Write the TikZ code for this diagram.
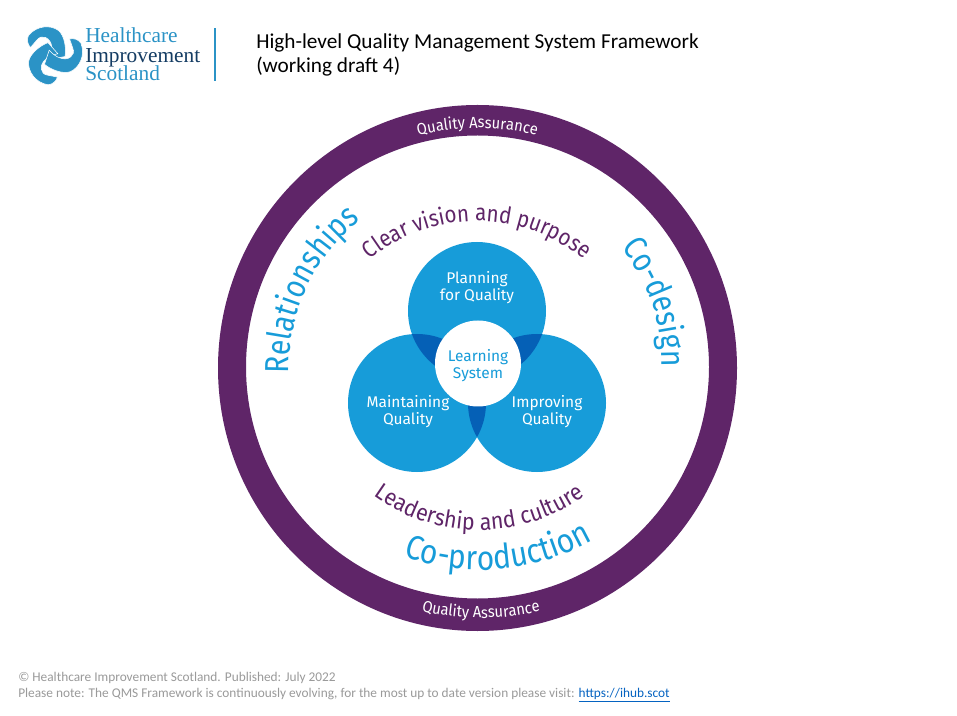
\documentclass[tikz,border=0pt]{standalone}
\usepackage{fontspec}
\usetikzlibrary{decorations.text,calc}
\setmainfont{Carlito}
\newfontfamily\fira{Fira Sans}
\newfontfamily\firaA[FakeStretch=0.85]{Fira Sans}
\newfontfamily\firaB[FakeStretch=0.88]{Fira Sans}
\newfontfamily\firaC[FakeStretch=0.92]{Fira Sans}
\newfontfamily\logofont{Liberation Serif}
\definecolor{hisblue}{HTML}{179CD9}
\definecolor{hispurple}{HTML}{5F2568}
\definecolor{hisdark}{HTML}{0560B6}
\definecolor{logoblue}{HTML}{2B93C6}
\definecolor{logonavy}{HTML}{143C63}
\definecolor{footgrey}{HTML}{9A9A9A}
\definecolor{linkblue}{HTML}{0563C1}
\def\qaFont{\firaC\fontsize{12}{14}\selectfont\color{white}}
\def\relFont{\firaA\fontsize{25}{28}\selectfont\color{hisblue}}
\def\prodFont{\firaB\fontsize{25.5}{28}\selectfont\color{hisblue}}
\def\clearFont{\firaB\fontsize{17.5}{20}\selectfont\color{hispurple}}
\def\leadFont{\firaC\fontsize{17.5}{20}\selectfont\color{hispurple}}
\tikzset{
  x=0.75pt,y=0.75pt,
  arctext/.style={decorate,decoration={text along path,text align=center,text={#1}}},
  circlabel/.style={font=\fira\fontsize{11.6}{12.75}\selectfont,align=center,inner sep=0,text=white},
  logoline/.style={font=\logofont\fontsize{16}{17}\selectfont,anchor=base west,inner sep=0},
  headline/.style={font=\fontsize{15.95}{18}\selectfont,anchor=base west,inner sep=0,text=black},
  footline/.style={font=\fontsize{10}{11}\selectfont,anchor=base west,inner sep=0,text=footgrey},
}
\begin{document}
\begin{tikzpicture}
\useasboundingbox (0,0) rectangle (957,715);
\fill[white] (0,0) rectangle (957,715);
% logo
\coordinate (tre) at (52.5,660.5);
\foreach \r in {0,120,240}{
  \filldraw[fill=logoblue,draw=white,line width=0.4pt,shift={(tre)},rotate=\r]
    (-24,19) .. controls (-16,29) and (-2,30) .. (6,24)
    .. controls (12,19) and (14,6) .. (12.5,-2)
    -- (-2,-5) .. controls (1,4) and (0,14) .. (-7,17)
    .. controls (-10,18) and (-13,18) .. (-16,14)
    -- (-22,7) .. controls (-25,10) and (-26,15) .. (-24,19) -- cycle;
}
\node[logoline,text=logoblue] (l1) at (85,672) {Healthcare};
\node[logoline,text=logonavy] (l2) at (85,652) {Improvement};
\node[logoline,text=logoblue] (l3) at (85,634) {Scotland};
\draw[logoblue,line width=1.5pt] (215,634) -- (215,687);
% header
\node[headline] (h1) at (256,666) {High-level Quality Management System Framework};
\node[headline] (h2) at (256,642) {(working draft 4)};
% ring
\fill[hispurple,even odd rule] (477.5,347) ellipse [x radius=259.5,y radius=263]
  (477.5,348) circle [radius=231.5];
% three circles
\coordinate (pc) at (477,404);
\coordinate (mc) at (417,312);
\coordinate (ic) at (537,312);
\fill[hisblue] (pc) circle [radius=69] (mc) circle [radius=69] (ic) circle [radius=69];
\begin{scope}\clip (pc) circle [radius=69]; \fill[hisdark] (mc) circle [radius=69] (ic) circle [radius=69]; \end{scope}
\begin{scope}\clip (mc) circle [radius=69]; \fill[hisdark] (ic) circle [radius=69]; \end{scope}
\fill[white] (478,351.5) circle [radius=43];
\node[circlabel] (plan) at (477,427.5) {Planning\\for Quality};
\node[circlabel] (main) at (408,303.5) {Maintaining\\Quality};
\node[circlabel] (impr) at (547,303.5) {Improving\\Quality};
\node[circlabel,text=hisblue] (lear) at (478,349.5) {Learning\\System};
% curved labels
\path[arctext={|\qaFont|Quality Assurance}] ($(477.5,347)+(108:240)$) arc [start angle=108,end angle=72,radius=240];
\path[arctext={|\qaFont|Quality Assurance}] ($(481,359)+(-112:262)$) arc [start angle=-112,end angle=-68,radius=262];
\path[arctext={|\clearFont|Clear vision and purpose}] ($(477,326)+(140:168)$) arc [start angle=140,end angle=40,radius=168];
\path[arctext={|\leadFont|Leadership and culture}] ($(479,365)+(-135:180)$) arc [start angle=-135,end angle=-45,radius=180];
\path[arctext={|\prodFont|Co-production}] ($(480,374)+(-120:229)$) arc [start angle=-120,end angle=-50,radius=229];
\path[arctext={|\relFont|Relationships}] ($(477,347)+(190:188)$) arc [start angle=190,end angle=120,radius=188];
\path[arctext={|\relFont|Co-design}] ($(482,353)+(50:180)$) arc [start angle=50,end angle=-12,radius=180];
% footer
\node[footline] (f1) at (18,34) {© Healthcare Improvement Scotland. Published: July 2022};
\node[footline] (f2) at (18,17.5) {Please note: The QMS Framework is continuously evolving, for the most up to date version please visit: \textcolor{linkblue}{\underline{https://ihub.scot}}};
\end{tikzpicture}
\end{document}
